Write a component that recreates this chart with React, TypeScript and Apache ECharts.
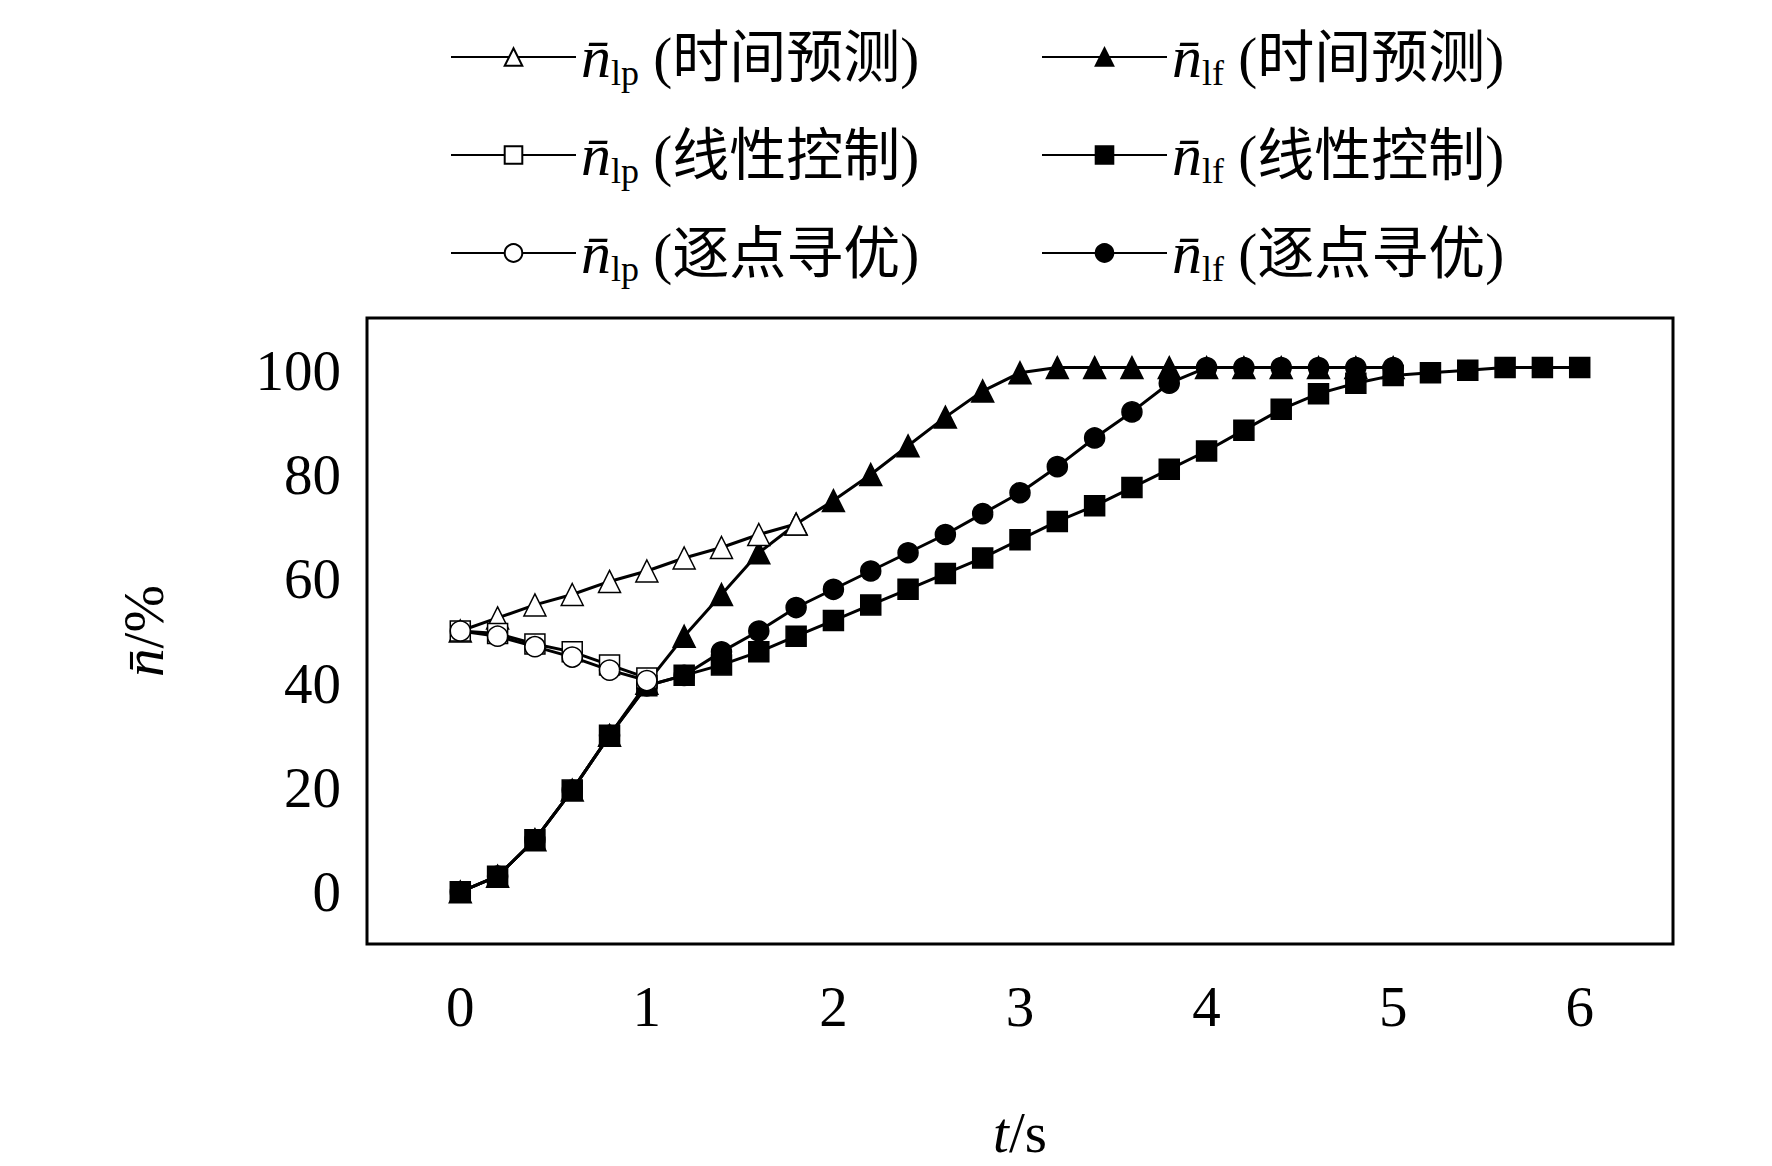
import { useEffect, useRef } from 'react'
import * as echarts from 'echarts'

const tLp = [0, 0.2, 0.4, 0.6, 0.8, 1.0]
const tAll = [0, 0.2, 0.4, 0.6, 0.8, 1.0, 1.2, 1.4, 1.6, 1.8, 2.0, 2.2, 2.4, 2.6, 2.8, 3.0, 3.2, 3.4, 3.6, 3.8, 4.0, 4.2, 4.4, 4.6, 4.8, 5.0, 5.2, 5.4, 5.6, 5.8, 6.0]

// n_lp (时间预测)
const lpTimeT = [0, 0.2, 0.4, 0.6, 0.8, 1.0, 1.2, 1.4, 1.6, 1.8]
const lpTime = [50, 52.5, 55, 57, 59.5, 61.5, 64, 66, 68.5, 70.5]
// n_lp (线性控制)
const lpLinear = [50, 49.5, 47.5, 46, 43.5, 41]
// n_lp (逐点寻优)
const lpPoint = [50, 49, 47, 45, 42.5, 40.5]
// n_lf (时间预测), t = 0..5.0
const lfTime = [0, 3, 10, 19.5, 30, 40, 49, 57, 65, 70.5, 75, 80, 85.5, 91, 96, 99.5, 100.5, 100.5, 100.5, 100.5, 100.5, 100.5, 100.5, 100.5, 100.5, 100.5]
// n_lf (线性控制), t = 0..6.0
const lfLinear = [0, 3, 10, 19.5, 30, 39.5, 41.5, 43.5, 46, 49, 52, 55, 58, 61, 64, 67.5, 71, 74, 77.5, 81, 84.5, 88.5, 92.5, 95.5, 97.5, 99, 99.5, 100, 100.5, 100.5, 100.5]
// n_lf (逐点寻优), t = 0..5.0
const lfPoint = [0, 3, 10, 19.5, 30, 39.5, 41.5, 46, 50, 54.5, 58, 61.5, 65, 68.5, 72.5, 76.5, 81.5, 87, 92, 97.5, 100.5, 100.5, 100.5, 100.5, 100.5, 100.5]

const names = ['lpTime', 'lfTime', 'lpLinear', 'lfLinear', 'lpPoint', 'lfPoint']
const labels: Record<string, [string, string]> = {
  lpTime: ['lp', '时间预测'],
  lfTime: ['lf', '时间预测'],
  lpLinear: ['lp', '线性控制'],
  lfLinear: ['lf', '线性控制'],
  lpPoint: ['lp', '逐点寻优'],
  lfPoint: ['lf', '逐点寻优'],
}

const serif = 'Liberation Serif, Noto Sans CJK SC, serif'
const zip = (t: number[], v: number[]) => v.map((y, i) => [t[i], y])

export default function App() {
  const ref = useRef<HTMLDivElement>(null)
  useEffect(() => {
    if (!ref.current) return
    const chart = echarts.init(ref.current, null, { renderer: 'svg' })
    const mk = (name: string, data: number[][], symbol: string, filled: boolean, z: number) => ({
      name,
      type: 'line',
      data,
      symbol,
      symbolSize: symbol === 'triangle' ? 22 : 20,
      z,
      lineStyle: { color: '#000', width: 3 },
      itemStyle: { color: filled ? '#000' : '#fff', borderColor: '#000', borderWidth: 1.5 },
    })
    const legends = names.map((n, i) => ({
      data: [n],
      left: i % 2 === 0 ? 445 : 1036,
      top: 22 + Math.floor(i / 2) * 98,
      itemWidth: 125,
      itemHeight: 22,
      itemGap: 0,
      formatter: (name: string) => `{n|n\u0304}{s|${labels[name][0]}}{c| (${labels[name][1]})}`,
      textStyle: {
        rich: {
          n: { fontFamily: serif, fontStyle: 'italic', fontSize: 60, color: '#000' },
          s: { fontFamily: serif, fontSize: 36, color: '#000', verticalAlign: 'bottom', padding: [32, 0, 0, 0] },
          c: { fontFamily: serif, fontSize: 57, color: '#000' },
        },
      },
    }))
    const richName = { i: { fontFamily: serif, fontStyle: 'italic', fontSize: 57, color: '#000' } }
    chart.setOption({
      animation: false,
      legend: legends,
      grid: { left: 367, top: 318, width: 1306, height: 653, show: true, borderColor: '#000', borderWidth: 3, containLabel: false },
      xAxis: {
        type: 'value', min: -0.5, max: 6.5, interval: 0.5,
        axisLine: { show: false }, axisTick: { show: false }, splitLine: { show: false },
        axisLabel: {
          fontFamily: serif, fontSize: 57, color: '#000', margin: 34,
          formatter: (v: number) => (Number.isInteger(v) && v >= 0 && v <= 6 ? String(v) : ''),
        },
        name: '{i|t}/s', nameLocation: 'middle', nameGap: 160,
        nameTextStyle: { fontFamily: serif, fontSize: 57, color: '#000', rich: richName },
      },
      yAxis: {
        type: 'value', min: -10, max: 110, interval: 10,
        axisLine: { show: false }, axisTick: { show: false }, splitLine: { show: false },
        axisLabel: {
          fontFamily: serif, fontSize: 57, color: '#000', margin: 26,
          formatter: (v: number) => (v >= 0 && v <= 100 && v % 20 === 0 ? String(v) : ''),
        },
        name: '{i|n\u0304}/%', nameLocation: 'middle', nameGap: 195,
        nameTextStyle: { fontFamily: serif, fontSize: 57, color: '#000', rich: richName },
      },
      series: [
        mk('lfTime', zip(tAll, lfTime), 'triangle', true, 2),
        mk('lfLinear', zip(tAll, lfLinear), 'rect', true, 2),
        mk('lfPoint', zip(tAll, lfPoint), 'circle', true, 2),
        mk('lpTime', zip(lpTimeT, lpTime), 'triangle', false, 3),
        mk('lpLinear', zip(tLp, lpLinear), 'rect', false, 3),
        mk('lpPoint', zip(tLp, lpPoint), 'circle', false, 3),
      ],
    })
    return () => chart.dispose()
  }, [])
  return <div ref={ref} style={{ position: 'absolute', left: 0, top: 0, width: 1772, height: 1166, background: '#fff' }} />
}
